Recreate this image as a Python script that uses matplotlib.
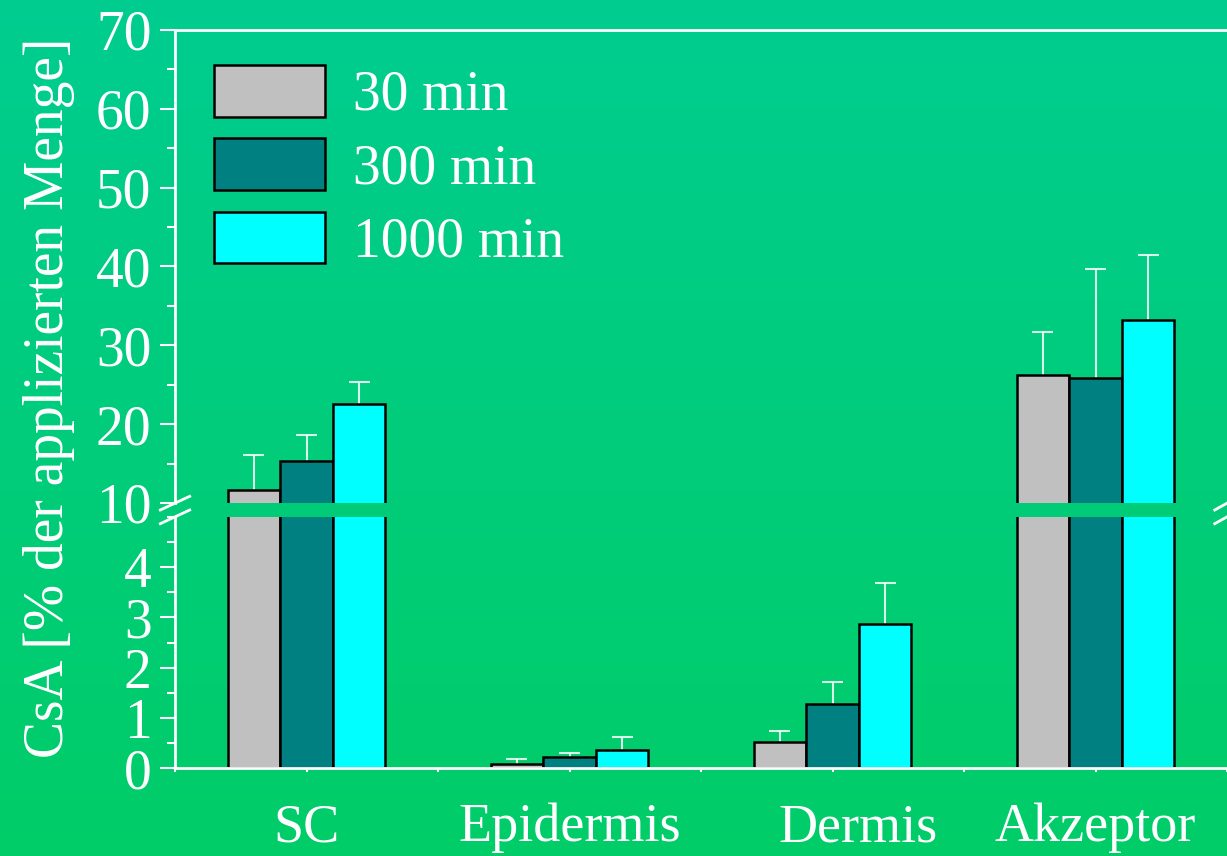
import numpy as np
import matplotlib.pyplot as plt
from matplotlib.colors import LinearSegmentedColormap
from matplotlib.ticker import MultipleLocator
import matplotlib.transforms as mtrans

plt.rcParams['font.family'] = ['Liberation Serif', 'DejaVu Serif']

######################################
# Data
######################################
categories = ['SC', 'Epidermis', 'Dermis', 'Akzeptor']
series = ['30 min', '300 min', '1000 min']

mean_30 = [11.6, 0.08, 0.52, 26.2]
mean_300 = [15.3, 0.22, 1.27, 25.9]
mean_1000 = [22.6, 0.36, 2.86, 33.2]

sd_30 = [4.5, 0.10, 0.22, 5.5]
sd_300 = [3.3, 0.08, 0.44, 13.8]
sd_1000 = [2.8, 0.26, 0.82, 8.3]

colors = ['#C0C0C0', '#008080', '#00FFFF']

######################################
# Figure + gradient background
######################################
fig = plt.figure(figsize=(12.27, 8.56), dpi=100)

bg = fig.add_axes([0, 0, 1, 1], zorder=-10)
grad = np.linspace(0, 1, 256).reshape(-1, 1)
cmap = LinearSegmentedColormap.from_list('bg', ['#00CC68', '#00CC90'])
bg.imshow(grad, cmap=cmap, aspect='auto', origin='lower', extent=[0, 1, 0, 1])
bg.axis('off')

left = 175 / 1227
ax_top = fig.add_axes([left, 0.4124, 1 - left, 0.9650 - 0.4124])
ax_bot = fig.add_axes([left, 0.1028, 1 - left, 0.3960 - 0.1028])

x = np.arange(len(categories))
width = 0.2
means = [mean_30, mean_300, mean_1000]
sds = [sd_30, sd_300, sd_1000]

for ax in (ax_top, ax_bot):
    ax.set_facecolor('none')
    for i in range(3):
        xpos = x + (i - 1) * width
        ax.bar(xpos, means[i], width, color=colors[i],
               edgecolor='black', linewidth=1.8, label=series[i], zorder=2)
        # upper error bars only
        top = np.array(means[i]) + np.array(sds[i])
        ax.vlines(xpos, means[i], top, color='white', linewidth=1.5,
                  alpha=0.85, zorder=1)
        ax.hlines(top, xpos - 0.04, xpos + 0.04, color='white', linewidth=1.5,
                  alpha=0.85, zorder=1)
    ax.set_xlim(-0.5, 3.5)
    ax.spines['right'].set_visible(False)
    for s in ax.spines.values():
        s.set_color('white')
        s.set_linewidth(2)
    ax.tick_params(axis='y', which='major', colors='white', length=11, width=1.5,
                   labelsize=40, pad=6)
    ax.tick_params(axis='y', which='minor', colors='white', length=6, width=1.5)

# upper part
ax_top.set_ylim(10, 70)
ax_top.yaxis.set_major_locator(MultipleLocator(10))
ax_top.yaxis.set_minor_locator(MultipleLocator(5))
ax_top.spines['bottom'].set_visible(False)
ax_top.set_xticks([])

# lower part
ax_bot.set_ylim(0, 5)
ax_bot.set_yticks([0, 1, 2, 3, 4])
ax_bot.yaxis.set_minor_locator(MultipleLocator(0.5))
ax_bot.spines['top'].set_visible(False)
ax_bot.set_xticks(x)
ax_bot.set_xticks(np.arange(-0.5, 3.6, 0.5), minor=True)
ax_bot.set_xticklabels(categories)
ax_bot.tick_params(axis='x', which='both', colors='white', length=3, width=1.5,
                   labelsize=39, pad=22)
ax_bot.get_xticklabels()[2].set_transform(
    ax_bot.get_xticklabels()[2].get_transform()
    + mtrans.ScaledTranslation(0.26, 0, fig.dpi_scale_trans))

# legend
leg = ax_top.legend(loc='upper left', frameon=False, fontsize=40,
                    handlelength=2.0, handleheight=1.05, handletextpad=0.5,
                    labelspacing=0.3, borderaxespad=0.3,
                    bbox_to_anchor=(0.0, 1.008))
for t in leg.get_texts():
    t.set_color('white')

# y label
fig.text(0.04, 0.535, 'CsA [% der applizierten Menge]', rotation=90,
         color='white', fontsize=40, ha='center', va='center')

# break marks
d = dict(color='white', linewidth=2, clip_on=False)
tr = fig.transFigure
y_gap = (0.4124 + 0.3960) / 2
for dy in (-0.008, 0.008):
    fig.add_artist(plt.Line2D([left - 0.012, left + 0.012],
                              [y_gap + dy - 0.008, y_gap + dy + 0.008],
                              transform=tr, **d))
    fig.add_artist(plt.Line2D([0.99, 1.01],
                              [y_gap + dy - 0.008, y_gap + dy + 0.008],
                              transform=tr, **d))

fig.savefig('out.png', dpi=100)
